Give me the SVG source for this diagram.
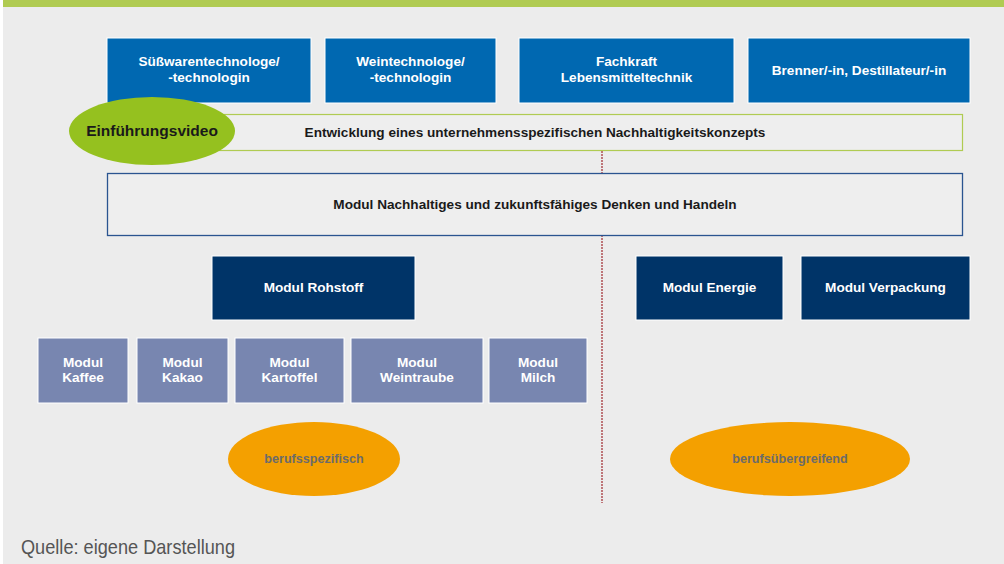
<svg xmlns="http://www.w3.org/2000/svg" width="1004" height="564" viewBox="0 0 1004 564">
<style>
.t{font-family:"Liberation Sans",Arial,sans-serif;font-weight:bold;text-anchor:middle}
.w{fill:#ffffff;font-size:13.6px}
.d{fill:#1a1a1a;font-size:13.6px}
.top{fill:#0068b1;stroke:#ffffff;stroke-width:1}
.dark{fill:#003468;stroke:#ffffff;stroke-width:1}
.sub{fill:#7886b0;stroke:#ffffff;stroke-width:1}
.or{fill:#f4a000}
.g{fill:#6b6b6b;font-size:12.6px}
</style>
<rect x="0" y="0" width="1004" height="564" fill="#ffffff"/>
<rect x="3" y="0" width="1001" height="564" fill="#ececec"/>
<rect x="3" y="0" width="1001" height="7" fill="#b0cb52"/>
<g id="connectors">
<line x1="602" y1="151" x2="602" y2="503" stroke="#a0282d" stroke-width="1.2" stroke-dasharray="2,1"/>
</g>
<g id="n1"><rect class="top" x="107" y="38" width="204" height="65"/><text class="t w" x="209" y="66">Süßwarentechnologe/</text><text class="t w" x="209" y="82">-technologin</text></g>
<g id="n2"><rect class="top" x="325" y="38" width="171" height="65"/><text class="t w" x="410.5" y="66">Weintechnologe/</text><text class="t w" x="410.5" y="82">-technologin</text></g>
<g id="n3"><rect class="top" x="519" y="38" width="215" height="65"/><text class="t w" x="626.5" y="66">Fachkraft</text><text class="t w" x="626.5" y="82">Lebensmitteltechnik</text></g>
<g id="n4"><rect class="top" x="748" y="38" width="222" height="65"/><text class="t w" x="859" y="75">Brenner/-in, Destillateur/-in</text></g>
<g id="n5"><rect x="107.5" y="114.5" width="855" height="36" fill="#eeeeee" stroke="#b0cb52" stroke-width="1.2"/><text class="t d" x="535" y="137">Entwicklung eines unternehmensspezifischen Nachhaltigkeitskonzepts</text></g>
<g id="n6"><ellipse cx="152" cy="131" rx="83" ry="34" fill="#95c11f"/><text class="t" x="152" y="136" fill="#1a1a1a" font-size="15.5">Einführungsvideo</text></g>
<g id="n7"><rect x="107.5" y="173.5" width="855" height="62" fill="#eeeeee" stroke="#2a5490" stroke-width="1.3"/><text class="t d" x="535" y="209">Modul Nachhaltiges und zukunftsfähiges Denken und Handeln</text></g>
<g id="n8"><rect class="dark" x="212" y="256" width="203" height="64"/><text class="t w" x="313.5" y="292">Modul Rohstoff</text></g>
<g id="n9"><rect class="dark" x="636" y="256" width="147" height="64"/><text class="t w" x="709.5" y="292">Modul Energie</text></g>
<g id="n10"><rect class="dark" x="801" y="256" width="169" height="64"/><text class="t w" x="885.5" y="292">Modul Verpackung</text></g>
<g id="n11"><rect class="sub" x="38" y="338" width="90" height="65"/><text class="t w" x="83" y="367">Modul</text><text class="t w" x="83" y="382">Kaffee</text></g>
<g id="n12"><rect class="sub" x="137" y="338" width="91" height="65"/><text class="t w" x="182.5" y="367">Modul</text><text class="t w" x="182.5" y="382">Kakao</text></g>
<g id="n13"><rect class="sub" x="235" y="338" width="109" height="65"/><text class="t w" x="289.5" y="367">Modul</text><text class="t w" x="289.5" y="382">Kartoffel</text></g>
<g id="n14"><rect class="sub" x="351" y="338" width="132" height="65"/><text class="t w" x="417" y="367">Modul</text><text class="t w" x="417" y="382">Weintraube</text></g>
<g id="n15"><rect class="sub" x="489" y="338" width="98" height="65"/><text class="t w" x="538" y="367">Modul</text><text class="t w" x="538" y="382">Milch</text></g>
<g id="n16"><ellipse class="or" cx="314" cy="459" rx="86" ry="37"/><text class="t g" x="314" y="463">berufsspezifisch</text></g>
<g id="n17"><ellipse class="or" cx="790" cy="459" rx="120" ry="37"/><text class="t g" x="790" y="463">berufsübergreifend</text></g>
<text x="21" y="554" font-family="'Liberation Sans',Arial,sans-serif" font-size="21" fill="#555555" textLength="214" lengthAdjust="spacingAndGlyphs">Quelle: eigene Darstellung</text>
</svg>
